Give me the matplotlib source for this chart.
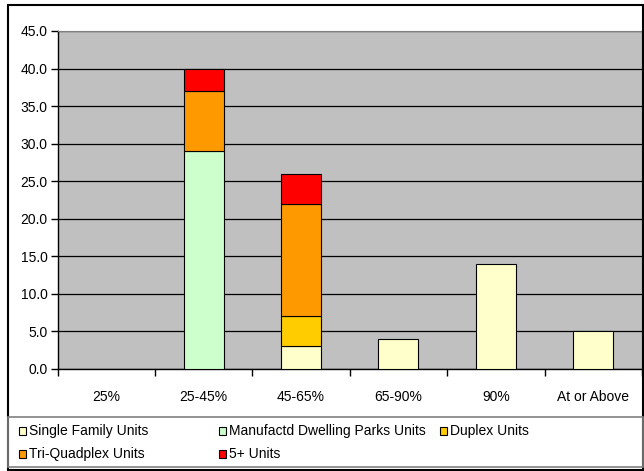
import matplotlib
matplotlib.use("Agg")
from matplotlib import pyplot as plt
from matplotlib.patches import Rectangle
import numpy as np

plt.rcParams['font.family'] = ['Liberation Sans', 'DejaVu Sans']

categories = ["25%", "25-45%", "45-65%", "65-90%", "90%", "At or Above"]
series_names = ["Single Family Units", "Manufactd Dwelling Parks Units",
                "Duplex Units", "Tri-Quadplex Units", "5+ Units"]
single_family = [0, 0, 3, 4, 14, 5]
manufactured = [0, 29, 0, 0, 0, 0]
duplex = [0, 0, 4, 0, 0, 0]
tri_quad = [0, 8, 15, 0, 0, 0]
five_plus = [0, 3, 4, 0, 0, 0]
colors = ["#FFFFCC", "#CCFFCC", "#FFCC00", "#FF9900", "#FF0000"]

W, H = 644, 471
fig = plt.figure(figsize=(W / 100, H / 100), dpi=100)
ax = fig.add_axes([57.5 / W, 1 - 369 / H, (642 - 57.5) / W, (369 - 31) / H])
ax.set_facecolor("#C0C0C0")

x = np.arange(len(categories))
bottom = np.zeros(len(categories))
for vals, c in zip([single_family, manufactured, duplex, tri_quad, five_plus], colors):
    vals = np.array(vals, dtype=float)
    keep = vals > 0
    ax.bar(x[keep], vals[keep], width=0.41, bottom=bottom[keep], color=c,
           edgecolor="black", linewidth=0.8, zorder=3)
    bottom += vals

ax.set_xlim(-0.5, len(categories) - 0.5)
ax.set_ylim(0, 45)
ax.set_yticks(np.arange(0, 46, 5))
ax.set_yticklabels([f"{v:.1f}" for v in np.arange(0, 46, 5)], fontsize=10)
ax.yaxis.grid(True, color="black", linewidth=0.9, zorder=1)
ax.set_axisbelow(True)

ax.set_xticks(x)
ax.set_xticklabels(categories, fontsize=10)
ax.set_xticks(np.arange(-0.5, len(categories), 1), minor=True)
ax.tick_params(axis="x", which="major", length=0, pad=15)
ax.tick_params(axis="x", which="minor", length=5, direction="out", width=1)
ax.tick_params(axis="y", length=5, direction="out", width=1, pad=2)

for s in ["top", "right"]:
    ax.spines[s].set_color("#808080")
for s in ["left", "bottom"]:
    ax.spines[s].set_color("black")
    ax.spines[s].set_linewidth(1)

# outer border and legend frame
fig.patches.append(Rectangle((8 / W, 1 - 470 / H), 635 / W, 465 / H,
                             transform=fig.transFigure, fill=False,
                             edgecolor="black", linewidth=1.5))
fig.patches.append(Rectangle((8 / W, 1 - 467 / H), 635 / W, 50 / H,
                             transform=fig.transFigure, fill=False,
                             edgecolor="#808080", linewidth=1.2))

col_x = [19, 219, 440, 19, 219]
row_y = [431, 431, 431, 454, 454]
for name, c, lx, ly in zip(series_names, colors, col_x, row_y):
    fig.patches.append(Rectangle((lx / W, 1 - (ly + 4) / H), 7 / W, 8 / H,
                                 transform=fig.transFigure, facecolor=c,
                                 edgecolor="black", linewidth=0.8))
    fig.text((lx + 10) / W, 1 - ly / H, name, fontsize=10, va="center", ha="left")

fig.savefig("out.png", dpi=100)
